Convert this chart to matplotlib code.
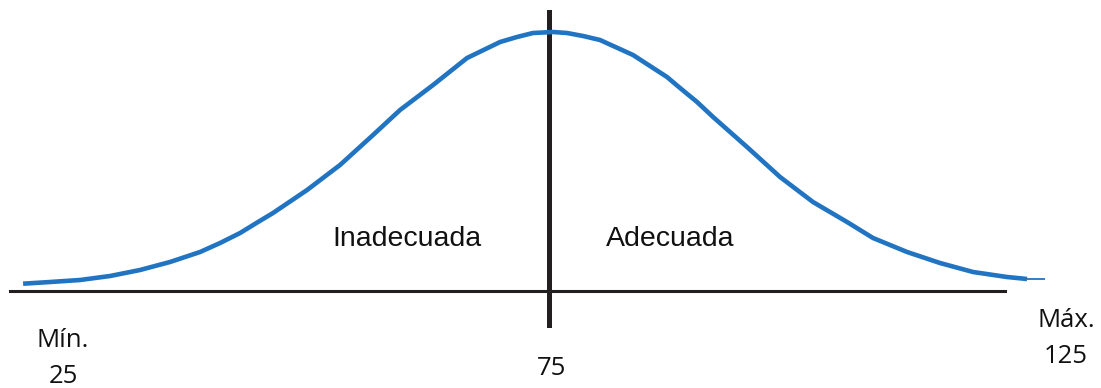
import matplotlib.pyplot as plt

# puntaje (eje x) y altura de la curva
puntaje = [23.64, 26.27, 29.19, 32.12, 35.04, 37.96, 40.89, 42.84, 44.79,
           46.54, 48.00, 51.32, 54.53, 57.75, 60.38, 63.60, 66.91, 70.13,
           71.78, 73.34, 75.29, 76.66, 78.22, 79.87, 83.09, 86.40, 87.67,
           89.33, 90.89, 94.20, 97.42, 100.63, 103.95, 106.48, 109.80,
           113.01, 116.23, 119.54, 121.49, 123.24]
altura = [7.3, 9, 11, 15, 21, 29, 39, 48, 58,
          69, 78, 101, 126, 156, 181, 206, 233, 249,
          254, 258, 259, 258, 255, 251, 236, 214, 203,
          189, 174, 144, 114, 89, 69, 53, 39,
          28, 19, 14, 12, 12]

zonas = ['Inadecuada', 'Adecuada']
etiquetas = ['Mín.\n25', '75', 'Máx.\n125']

W, H = 1101, 388
fig = plt.figure(figsize=(W / 100, H / 100), dpi=100)
ax = fig.add_axes([0, 0, 1, 1])
ax.set_xlim(21.39, 128.70)
ax.set_ylim(-97, 291)
ax.axis('off')

azul = '#2174c1'
ax.plot(puntaje[:-1], altura[:-1], color=azul, lw=3.3, zorder=3,
        solid_capstyle='butt', solid_joinstyle='round')
# la cola derecha se afina
ax.plot(puntaje[-2:], altura[-2:], color=azul, lw=1.3, zorder=3,
        solid_capstyle='butt')
ax.plot([22.37, 119.35], [0, 0], color='#231f20', lw=2.2, zorder=2)
ax.plot([74.9, 74.9], [279, -34], color='#231f20', lw=3.6, zorder=2)

# textos de zonas
for txt, px in zip(zonas, [407, 670]):
    ax.text(px / W, 1 - 246 / H, txt, transform=ax.transAxes, ha='center',
            va='baseline', fontsize=20.5, family='Liberation Sans', color='#111111')

# etiquetas del eje
pos = [(63, 347), (552, 375), (1066, 327)]
for txt, (px, py) in zip(etiquetas, pos):
    lines = txt.split('\n')
    for i, ln in enumerate(lines):
        ax.text(px / W, 1 - (py + 36 * i) / H, ln, transform=ax.transAxes,
                ha='center', va='baseline', fontsize=18.5, family='Open Sans',
                color='#111111')

fig.savefig('out.png', dpi=100)
